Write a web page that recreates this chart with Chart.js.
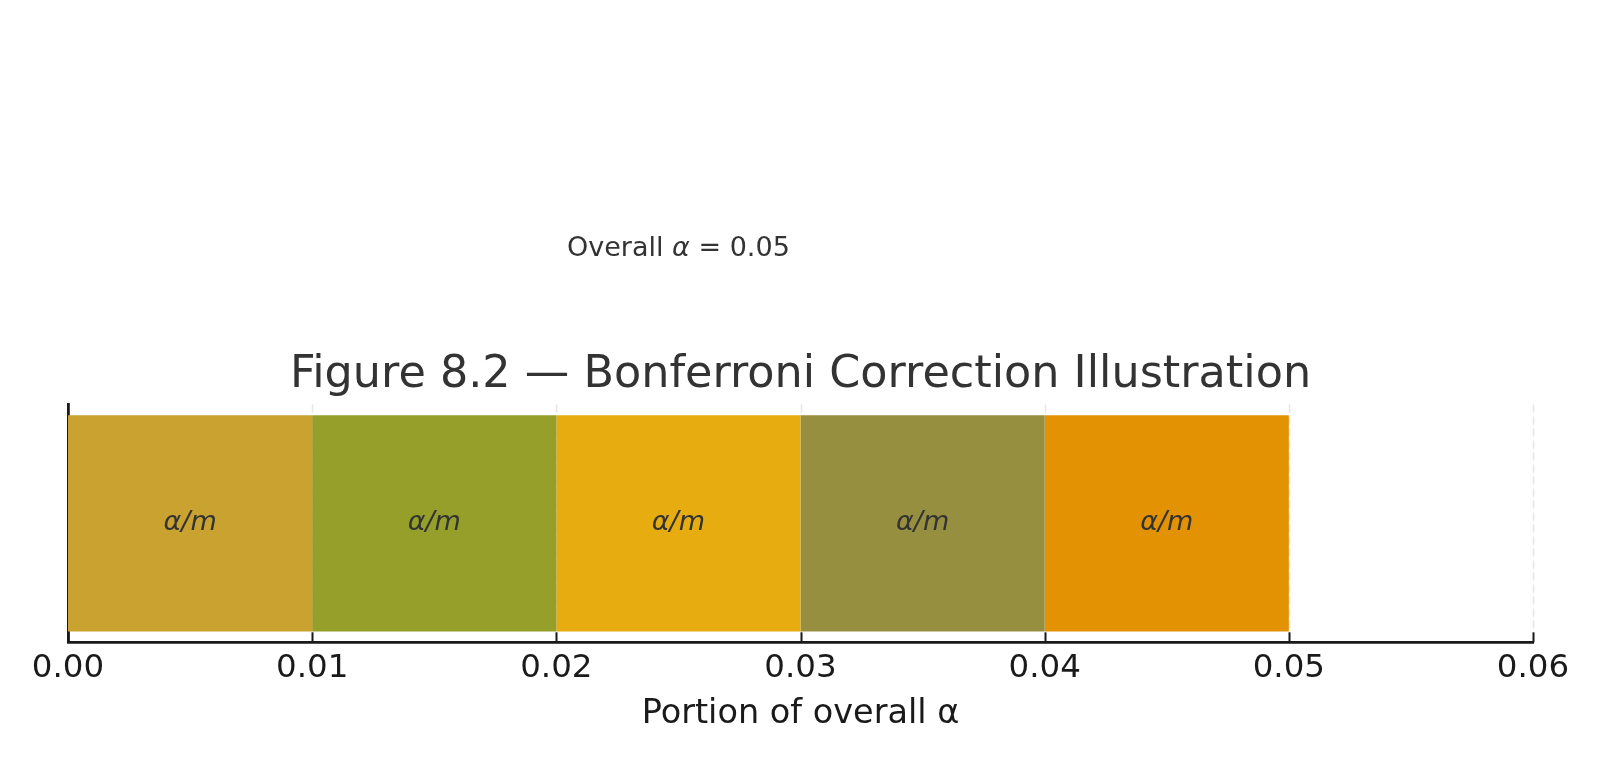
<!DOCTYPE html>
<html><head><meta charset="utf-8">
<script src="https://cdn.jsdelivr.net/npm/chart.js@4/dist/chart.umd.min.js"></script>
<style>html,body{margin:0;padding:0;background:#fff}#wrap{width:1600px;height:760px}</style>
</head><body><div id="wrap"><canvas id="c" width="1600" height="760"></canvas></div>
<script>
const categories = ['tests'];
const segmentLabels = ['α/m', 'α/m', 'α/m', 'α/m', 'α/m'];
const segmentValues = [0.01, 0.01, 0.01, 0.01, 0.01];
const segmentColors = ['#c9a22f', '#969f2a', '#e6ac10', '#978f40', '#e29203'];
const xTicks = [0, 0.01, 0.02, 0.03, 0.04, 0.05, 0.06];
const overallAlpha = 0.05;
const annotationX = 0.025;
const annotationY = 1.143;
const titleText = 'Figure 8.2 — Bonferroni Correction Illustration';
const xTitle = 'Portion of overall α';

const FONT = "'DejaVu Sans', 'Liberation Sans', sans-serif";

const datasets = segmentValues.map((v, i) => ({
  label: segmentLabels[i],
  data: [v],
  backgroundColor: segmentColors[i],
  borderWidth: 0,
  categoryPercentage: 1.0,
  barPercentage: 0.909
}));

const decorPlugin = {
  id: 'decor',
  beforeDatasetsDraw(chart) {
    const ctx = chart.ctx, xs = chart.scales.x, a = chart.chartArea;
    ctx.save();
    ctx.strokeStyle = 'rgba(210,210,210,0.55)';
    ctx.lineWidth = 1.5;
    ctx.setLineDash([8, 4]);
    xTicks.forEach(v => {
      if (v === 0) return;
      const px = Math.round(xs.getPixelForValue(v)) + 0.5;
      ctx.beginPath(); ctx.moveTo(px, a.top); ctx.lineTo(px, a.bottom); ctx.stroke();
    });
    ctx.restore();
  },
  afterDatasetsDraw(chart) {
    const ctx = chart.ctx;
    ctx.save();
    ctx.fillStyle = '#333333';
    ctx.font = "italic 27px " + FONT;
    ctx.textAlign = 'center';
    ctx.textBaseline = 'middle';
    chart.data.datasets.forEach((ds, i) => {
      const el = chart.getDatasetMeta(i).data[0];
      const cx = (el.x + el.base) / 2;
      ctx.fillText(ds.label, cx, el.y);
    });
    ctx.restore();
  },
  afterDraw(chart) {
    const ctx = chart.ctx, xs = chart.scales.x, ya = chart.scales.yAnn, a = chart.chartArea;
    ctx.save();
    ctx.strokeStyle = '#1a1a1a';
    ctx.lineWidth = 2;
    xTicks.forEach(v => {
      const px = Math.round(xs.getPixelForValue(v)) + 0.5;
      ctx.beginPath(); ctx.moveTo(px, a.bottom); ctx.lineTo(px, a.bottom - 10); ctx.stroke();
    });
    const parts = [
      {t: 'Overall ', f: "27px " + FONT},
      {t: 'α', f: "italic 27px " + FONT},
      {t: ' = ' + overallAlpha.toFixed(2), f: "27px " + FONT}
    ];
    let total = 0;
    parts.forEach(p => { ctx.font = p.f; p.w = ctx.measureText(p.t).width; total += p.w; });
    let x = xs.getPixelForValue(annotationX) - total / 2;
    const y = ya.getPixelForValue(annotationY);
    ctx.fillStyle = '#333333';
    ctx.textBaseline = 'middle';
    ctx.textAlign = 'left';
    parts.forEach(p => { ctx.font = p.f; ctx.fillText(p.t, x, y); x += p.w; });
    ctx.restore();
  }
};

new Chart(document.getElementById('c'), {
  type: 'bar',
  data: { labels: categories, datasets },
  options: {
    responsive: false,
    animation: false,
    devicePixelRatio: 1,
    indexAxis: 'y',
    layout: { padding: { top: 349, left: 68, right: 67, bottom: 25 } },
    plugins: {
      legend: { display: false },
      tooltip: { enabled: false },
      title: {
        display: true, text: titleText, color: '#333333',
        font: { family: FONT, size: 44.5, weight: 'normal' },
        padding: { top: 0, bottom: 2 }
      }
    },
    scales: {
      x: {
        type: 'linear', stacked: true, min: 0, max: 0.06,
        afterBuildTicks: s => { s.ticks = xTicks.map(v => ({ value: v })); },
        ticks: {
          callback: v => Number(v).toFixed(2),
          color: '#1a1a1a', padding: 10,
          font: { family: FONT, size: 32.5, lineHeight: 1.0 },
          maxRotation: 0, autoSkip: false
        },
        grid: { display: false, drawTicks: false },
        border: { display: true, color: '#1a1a1a', width: 2.8 },
        title: {
          display: true, text: xTitle, color: '#1a1a1a',
          font: { family: FONT, size: 33.5 },
          padding: { top: -1, bottom: 1 }
        }
      },
      y: {
        type: 'category', stacked: true,
        ticks: { display: false },
        grid: { display: false, drawTicks: false },
        border: { display: true, color: '#1a1a1a', width: 2.8 }
      },
      yAnn: {
        type: 'linear', display: false, min: -0.44, max: 0.44, position: 'right'
      }
    }
  },
  plugins: [decorPlugin]
});
</script></body></html>
